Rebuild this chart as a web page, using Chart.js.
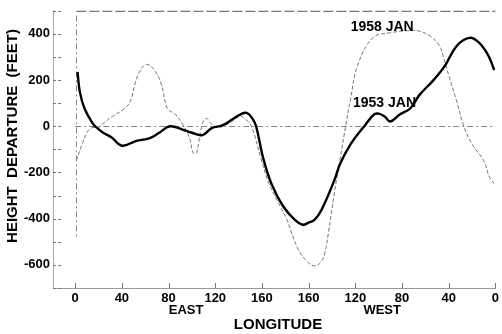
<!DOCTYPE html>
<html>
<head>
<meta charset="utf-8">
<script src="https://cdn.jsdelivr.net/npm/chart.js@4.4.0/dist/chart.umd.min.js"></script>
<style>
  html, body { margin: 0; padding: 0; background: #fff; }
  #wrap { width: 502px; height: 334px; }
</style>
</head>
<body>
<div id="wrap"><canvas id="chart" width="502" height="334"></canvas></div>
<script>
// longitude runs 0..180 east then 180..0 west, stored as 0..360
const X_TICKS = [0, 40, 80, 120, 160, 200, 240, 280, 320, 360];
const Y_TICKS = [-600, -400, -200, 0, 200, 400];
const Y_MINOR = [-700, -600, -500, -400, -300, -200, -100, 0, 100, 200, 300, 400, 500];

// 1953 JAN (solid)
const lon1953 = [2, 4, 8, 15, 18, 24, 31, 40, 52, 64, 72, 81, 92, 100, 109, 117, 126, 134, 141, 147, 152, 155, 161, 168, 178, 188, 195, 200, 205, 211, 222, 227, 236, 249, 256, 260, 265, 270, 278, 287, 295, 307, 317, 327, 338, 346, 354, 359];
const hgt1953 = [235, 149, 77, 13, -4, -28, -47, -84, -64, -51, -28, 0, -14, -28, -38, -8, 4, 28, 50, 58, 32, 0, -136, -247, -345, -404, -426, -417, -405, -362, -234, -162, -77, 9, 51, 55, 43, 21, 51, 77, 136, 200, 264, 349, 383, 362, 306, 243];

// 1958 JAN (dashed)
const lon1958 = [1, 6, 10, 14, 20, 24, 32, 41, 47, 51, 55, 61, 68, 74, 79, 86, 92, 98, 101, 104, 108, 112, 117, 123, 132, 141, 146, 151, 159, 166, 176, 181, 191, 199, 205, 211, 214, 217, 222, 227, 232, 236, 242, 255, 270, 288, 295, 304, 312, 316, 320, 327, 333, 340, 350, 355, 359];
const hgt1958 = [-149, -77, -28, -7, -4, 13, 43, 72, 106, 179, 234, 268, 243, 179, 77, 51, 9, -51, -115, -115, -7, 34, 9, -4, 13, 43, 30, 0, -136, -247, -350, -400, -532, -587, -604, -585, -545, -460, -290, -140, 9, 120, 264, 383, 405, 415, 412, 391, 349, 290, 221, 106, 0, -77, -149, -221, -247];

function pts(xs, ys) {
    return xs.map((x, i) => ({ x: x, y: ys[i] }));
}

const FONT = '"Liberation Sans", Arial, sans-serif';

// decorations: frame lines, inside ticks, titles and curve labels
const decorPlugin = {
    id: 'decor',
    beforeDatasetsDraw(chart) {
        const c = chart.ctx, xs = chart.scales.x, ys = chart.scales.y;
        const a = chart.chartArea;
        c.save();
        c.lineWidth = 1;
        // top line
        c.strokeStyle = '#555';
        c.setLineDash([10, 3]);
        c.beginPath();
        c.moveTo(xs.getPixelForValue(1), ys.getPixelForValue(500) + 0.5);
        c.lineTo(xs.getPixelForValue(360), ys.getPixelForValue(500) + 0.5);
        c.stroke();
        // zero line
        c.strokeStyle = '#888';
        c.setLineDash([6, 3, 2, 3]);
        c.beginPath();
        c.moveTo(xs.getPixelForValue(0), Math.round(ys.getPixelForValue(0)) + 0.5);
        c.lineTo(xs.getPixelForValue(360), Math.round(ys.getPixelForValue(0)) + 0.5);
        c.stroke();
        // vertical line at 0
        c.beginPath();
        c.moveTo(Math.round(xs.getPixelForValue(1)) + 0.5, ys.getPixelForValue(480));
        c.lineTo(Math.round(xs.getPixelForValue(1)) + 0.5, ys.getPixelForValue(-490));
        c.stroke();
        // y ticks pointing inward
        c.strokeStyle = '#777';
        c.setLineDash([3, 2]);
        Y_MINOR.forEach(v => {
            const py = Math.round(ys.getPixelForValue(v)) + 0.5;
            c.beginPath();
            c.moveTo(a.left, py);
            c.lineTo(a.left + 10, py);
            c.stroke();
        });
        // x ticks pointing up
        c.setLineDash([]);
        X_TICKS.forEach(v => {
            const px = Math.round(xs.getPixelForValue(v)) + 0.5;
            c.beginPath();
            c.moveTo(px, a.bottom);
            c.lineTo(px, a.bottom - 5);
            c.stroke();
        });
        c.restore();
    },
    afterDraw(chart) {
        const c = chart.ctx, xs = chart.scales.x, ys = chart.scales.y;
        c.save();
        c.fillStyle = '#000';
        c.textBaseline = 'middle';
        c.textAlign = 'left';
        c.font = 'bold 14px ' + FONT;
        c.fillText('1958 JAN', xs.getPixelForValue(236), ys.getPixelForValue(430));
        c.fillText('1953 JAN', xs.getPixelForValue(238), ys.getPixelForValue(102));
        c.textAlign = 'center';
        c.font = 'bold 13px ' + FONT;
        c.fillText('EAST', xs.getPixelForValue(95), 310);
        c.fillText('WEST', xs.getPixelForValue(263), 310);
        c.font = 'bold 15px ' + FONT;
        c.fillText('LONGITUDE', 278, 325);
        c.translate(13, 136);
        c.rotate(-Math.PI / 2);
        c.fillText('HEIGHT  DEPARTURE  (FEET)', 0, 0);
        c.restore();
    }
};

new Chart(document.getElementById('chart').getContext('2d'), {
    type: 'line',
    data: {
        datasets: [{
            label: '1953 JAN',
            data: pts(lon1953, hgt1953),
            borderColor: '#000',
            borderWidth: 2.4,
            pointRadius: 0,
            tension: 0.4,
            fill: false
        }, {
            label: '1958 JAN',
            data: pts(lon1958, hgt1958),
            borderColor: '#777',
            borderWidth: 1,
            borderDash: [4, 2],
            pointRadius: 0,
            tension: 0.4,
            fill: false
        }]
    },
    options: {
        responsive: false,
        animation: false,
        layout: { padding: { top: 8, right: 3, left: 0, bottom: 0 } },
        plugins: {
            legend: { display: false },
            tooltip: { enabled: false }
        },
        scales: {
            x: {
                type: 'linear',
                min: -19,
                max: 360,
                afterBuildTicks: s => { s.ticks = X_TICKS.map(v => ({ value: v })); },
                afterFit: s => { s.height = 46; },
                grid: { display: false, drawTicks: false },
                border: { display: true, color: '#999', dash: [8, 3] },
                ticks: {
                    padding: 3,
                    color: '#000',
                    font: { family: FONT, size: 13, weight: 'bold' },
                    maxRotation: 0,
                    autoSkip: false,
                    callback: v => (v <= 180 ? v : 360 - v)
                }
            },
            y: {
                min: -700,
                max: 500,
                afterBuildTicks: s => { s.ticks = Y_TICKS.map(v => ({ value: v })); },
                afterFit: s => { s.width = 53; },
                grid: { display: false, drawTicks: false },
                border: { display: true, color: '#aaa', dash: [6, 4] },
                ticks: {
                    padding: 3,
                    color: '#000',
                    font: { family: FONT, size: 13, weight: 'bold' },
                    autoSkip: false
                }
            }
        }
    },
    plugins: [decorPlugin]
});
</script>
</body>
</html>
